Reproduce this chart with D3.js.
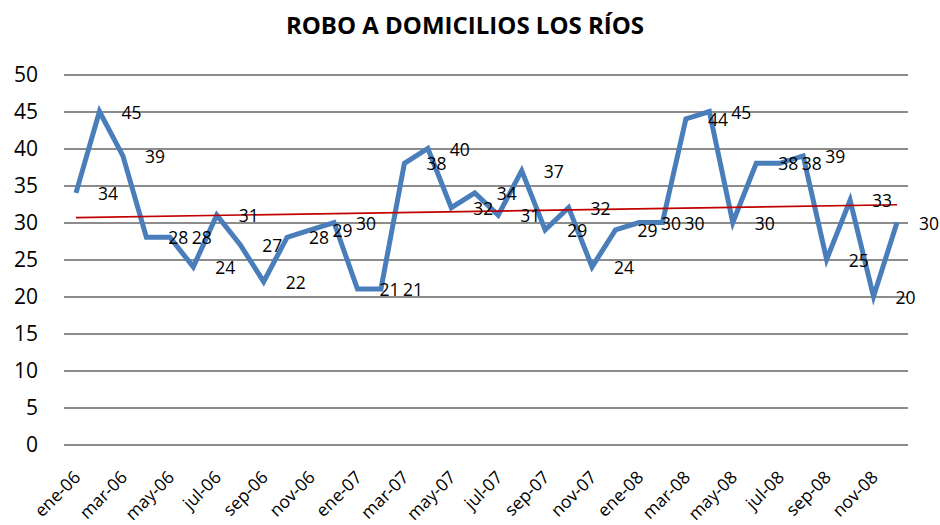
<!DOCTYPE html>
<html>
<head>
<meta charset="utf-8">
<script src="https://cdn.jsdelivr.net/npm/d3@7"></script>
<style>
  html, body { margin: 0; padding: 0; background: #fff; }
  svg { display: block; font-family: "Open Sans", "Noto Sans", sans-serif; }
</style>
</head>
<body>
<svg id="chart" width="940" height="525"></svg>
<script>
// Monthly burglary counts, ene-06 .. dic-08
const months = [
  "ene-06","feb-06","mar-06","abr-06","may-06","jun-06","jul-06","ago-06","sep-06","oct-06","nov-06","dic-06",
  "ene-07","feb-07","mar-07","abr-07","may-07","jun-07","jul-07","ago-07","sep-07","oct-07","nov-07","dic-07",
  "ene-08","feb-08","mar-08","abr-08","may-08","jun-08","jul-08","ago-08","sep-08","oct-08","nov-08","dic-08"
];
const robos = [
  34, 45, 39, 28, 28, 24, 31, 27, 22, 28, 29, 30,
  21, 21, 38, 40, 32, 34, 31, 37, 29, 32, 24, 29,
  30, 30, 44, 45, 30, 38, 38, 39, 25, 33, 20, 30
];
const yTicks = [0, 5, 10, 15, 20, 25, 30, 35, 40, 45, 50];
const title = "ROBO A DOMICILIOS LOS RÍOS";

const svg = d3.select("#chart");

const x = d3.scalePoint().domain(months).range([76, 897]);
const y = d3.scaleLinear().domain([0, 50]).range([444.5, 74.5]);

// title
svg.append("text")
  .attr("x", 465).attr("y", 34)
  .attr("text-anchor", "middle")
  .attr("font-size", 24).attr("font-weight", "bold")
  .attr("fill", "#000")
  .text(title);

// horizontal gridlines + y labels
const yAxis = d3.axisLeft(y).tickValues(yTicks).tickSize(-(908 - 64)).tickPadding(26);
const gy = svg.append("g").attr("transform", "translate(64,0)").call(yAxis);
gy.select(".domain").remove();
gy.selectAll(".tick line").attr("stroke", "#8c8c8c").attr("stroke-width", 2);
gy.selectAll(".tick text")
  .attr("font-size", 21).attr("fill", "#000")
  .attr("font-family", "\"Open Sans\", sans-serif");

// x axis labels, every second month, rotated
const xAxis = d3.axisBottom(x)
  .tickValues(months.filter((d, i) => i % 2 === 0))
  .tickSize(0).tickPadding(0);
const gx = svg.append("g").attr("transform", "translate(0,444.5)").call(xAxis);
gx.select(".domain").remove();
gx.selectAll(".tick text")
  .attr("font-size", 17.5).attr("fill", "#000")
  .attr("font-family", "\"Open Sans\", sans-serif")
  .attr("text-anchor", "end")
  .attr("dy", null).attr("y", 0)
  .attr("transform", "translate(5,34) rotate(-45)");

// linear trend of the series
const n = robos.length;
const xs = d3.range(n);
const mx = d3.mean(xs), my = d3.mean(robos);
const slope = d3.sum(xs, i => (i - mx) * (robos[i] - my)) / d3.sum(xs, i => (i - mx) ** 2);
const icpt = my - slope * mx;

// series line
svg.append("path")
  .datum(robos)
  .attr("fill", "none")
  .attr("stroke", "#4a7ebb")
  .attr("stroke-width", 5)
  .attr("stroke-linejoin", "miter")
  .attr("d", d3.line().x((d, i) => x(months[i])).y(d => y(d)));

// trend line
svg.append("line")
  .attr("x1", x(months[0])).attr("y1", y(icpt))
  .attr("x2", x(months[n - 1])).attr("y2", y(icpt + slope * (n - 1)))
  .attr("stroke", "#c00000").attr("stroke-width", 1.6);

// data labels to the right of each point
svg.append("g").selectAll("text")
  .data(robos)
  .join("text")
  .attr("x", (d, i) => x(months[i]) + 22)
  .attr("y", d => y(d) + 7)
  .attr("font-size", 17.5).attr("fill", "#000")
  .text(d => d);
</script>
</body>
</html>
